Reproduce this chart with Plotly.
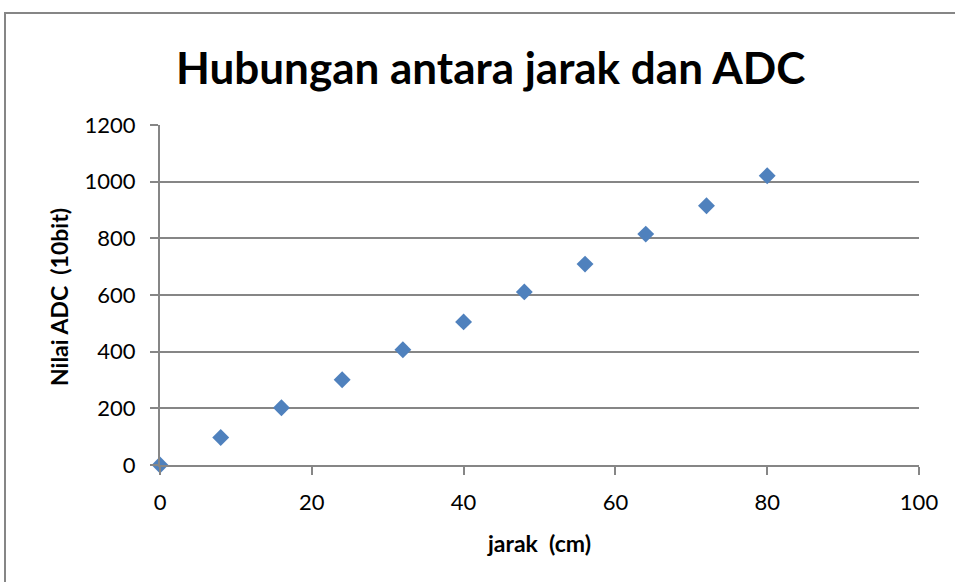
import plotly.graph_objects as go

# Measured distance (cm) vs. ADC reading (10-bit)
jarak_cm = [0, 8, 16, 24, 32, 40, 48, 56, 64, 72, 80]
nilai_adc = [0, 97, 202, 301, 407, 505, 611, 709, 815, 915, 1021]

x_ticks = [0, 20, 40, 60, 80, 100]
y_ticks = [0, 200, 400, 600, 800, 1000, 1200]

FONT = "Lato"
GRID = "#868686"

W, H = 955, 582
L, R, T, B = 160, 36, 125, 117
pw, ph = W - L - R, H - T - B


def px(xpix):
    return (xpix - L) / pw


def py(ypix):
    return (H - B - ypix) / ph


fig = go.Figure(
    go.Scatter(
        x=jarak_cm,
        y=nilai_adc,
        mode="markers",
        marker=dict(symbol="diamond", size=13, color="#4F81BD",
                    line=dict(width=0)),
        cliponaxis=False,
        showlegend=False,
    )
)

fig.update_xaxes(
    range=[0, 100],
    tickvals=x_ticks,
    ticks="outside", ticklen=8, tickwidth=2, tickcolor=GRID,
    showline=True, linecolor=GRID, linewidth=2,
    showgrid=False, zeroline=False,
    tickfont=dict(family=FONT, size=22, color="#000000"),
    ticklabelstandoff=9,
)
fig.update_yaxes(
    range=[0, 1200],
    tickvals=y_ticks,
    ticks="outside", ticklen=8, tickwidth=2, tickcolor=GRID,
    showline=True, linecolor=GRID, linewidth=2,
    showgrid=True, gridcolor=GRID, gridwidth=2,
    zeroline=False,
    tickfont=dict(family=FONT, size=22, color="#000000"),
    ticklabelstandoff=10,
)

fig.update_layout(
    width=W, height=H,
    margin=dict(l=L, r=R, t=T, b=B),
    paper_bgcolor="white",
    plot_bgcolor="white",
    shapes=[
        dict(type="rect", xref="paper", yref="paper",
             x0=px(5), x1=px(1000), y0=py(13), y1=py(700),
             line=dict(color=GRID, width=2), layer="below"),
    ],
    annotations=[
        dict(text="<b>Hubungan antara jarak dan ADC</b>",
             xref="paper", yref="paper", x=px(490), y=py(67),
             showarrow=False, xanchor="center", yanchor="middle",
             font=dict(family=FONT, size=44, color="#000000")),
        dict(text="<b>jarak  (cm)</b>",
             xref="paper", yref="paper", x=px(539), y=py(543),
             showarrow=False, xanchor="center", yanchor="middle",
             font=dict(family=FONT, size=23, color="#000000")),
        dict(text="<b>Nilai ADC  (10bit)</b>",
             xref="paper", yref="paper", x=px(59), y=py(297),
             showarrow=False, xanchor="center", yanchor="middle",
             textangle=-90,
             font=dict(family=FONT, size=23, color="#000000")),
    ],
)

fig.write_html("out.html")
